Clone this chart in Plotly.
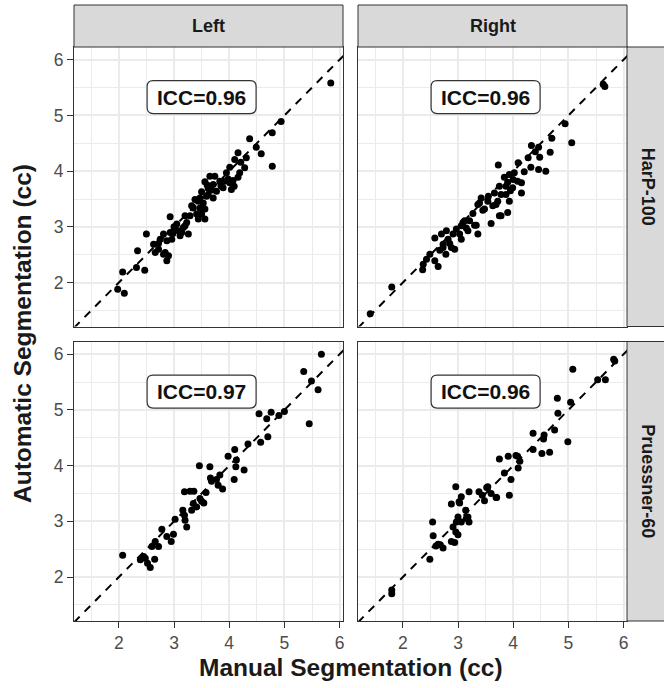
import plotly.graph_objects as go

# ---------------- data ----------------
sides = ["Left", "Right"]
protocols = ["HarP-100", "Pruessner-60"]
icc_values = {("HarP-100", "Left"): "0.96", ("HarP-100", "Right"): "0.96",
              ("Pruessner-60", "Left"): "0.97", ("Pruessner-60", "Right"): "0.96"}

harp_left_manual = [5.84, 4.94, 4.78, 4.37, 4.49, 4.58, 4.78, 4.16, 4.10, 4.31, 4.01, 4.28, 4.21, 3.95,
                    4.19, 4.16, 4.07, 4.01, 4.09, 3.92, 3.89, 4.04, 3.74, 3.83, 3.65, 3.56, 3.71, 3.68,
                    3.62, 3.50, 3.77, 3.71, 3.59, 3.47, 3.44, 3.53, 3.35, 3.47, 3.56, 3.29, 3.41, 3.50,
                    3.56, 3.44, 3.20, 3.23, 3.17, 3.14, 3.26, 2.93, 3.05, 3.08, 3.11, 2.81, 2.93, 2.75,
                    2.87, 2.96, 2.63, 2.50, 2.72, 2.66, 2.84, 2.90, 2.81, 2.87, 2.34, 2.32, 2.47, 2.07,
                    1.98, 2.10, 3.32, 3.38, 3.62, 3.00, 2.98, 3.20, 3.60, 3.85, 3.98, 2.72, 3.02]
harp_left_auto = [5.58, 4.89, 4.69, 4.58, 4.43, 4.31, 4.09, 4.33, 4.21, 4.24, 4.07, 4.06, 4.16, 3.97,
                  3.97, 3.89, 3.83, 3.79, 3.73, 3.82, 3.70, 3.67, 3.91, 3.82, 3.91, 3.81, 3.76, 3.66,
                  3.69, 3.63, 3.64, 3.52, 3.55, 3.52, 3.46, 3.43, 3.34, 3.34, 3.32, 3.20, 3.23, 3.23,
                  3.14, 3.14, 3.20, 3.08, 2.99, 2.90, 2.87, 3.18, 3.05, 2.93, 2.84, 2.87, 2.90, 2.78,
                  2.75, 2.78, 2.69, 2.87, 2.60, 2.54, 2.54, 2.48, 2.51, 2.39, 2.57, 2.27, 2.22, 2.19,
                  1.88, 1.81, 3.38, 3.49, 3.58, 3.00, 2.88, 3.02, 3.75, 3.74, 3.86, 2.70, 2.95]

harp_right_manual = [5.63, 5.66, 4.94, 4.70, 5.06, 4.33, 4.46, 4.67, 4.48, 4.27, 4.09, 4.32, 4.46, 4.59,
                     3.73, 4.20, 4.02, 3.93, 3.84, 4.08, 4.15, 3.75, 3.87, 3.99, 4.15, 3.66, 3.78, 3.93,
                     3.42, 3.54, 3.69, 3.36, 3.48, 3.63, 3.78, 3.90, 3.27, 3.21, 3.60, 3.12, 3.33, 3.18,
                     3.06, 2.97, 2.91, 3.06, 2.79, 2.82, 2.58, 2.73, 2.94, 2.78, 2.67, 2.49, 2.43, 2.37,
                     2.36, 2.58, 2.64, 1.80, 1.41, 2.70, 2.73, 2.88, 3.03, 3.36, 3.30, 3.09, 3.39, 3.75,
                     3.87, 3.72, 3.55, 3.90, 4.00, 3.45, 2.85, 3.15, 4.40, 3.95]
harp_right_auto = [5.56, 5.52, 4.85, 4.59, 4.51, 4.46, 4.43, 4.34, 4.25, 4.24, 4.15, 4.07, 4.03, 4.00,
                   4.11, 3.99, 3.97, 3.94, 3.89, 3.82, 3.79, 3.73, 3.73, 3.70, 3.61, 3.61, 3.58, 3.46,
                   3.52, 3.46, 3.40, 3.40, 3.32, 3.38, 3.20, 3.26, 3.24, 3.11, 3.06, 3.11, 3.03, 2.93,
                   3.02, 2.96, 2.87, 2.78, 2.93, 2.78, 2.80, 2.69, 2.60, 2.51, 2.58, 2.51, 2.42, 2.33,
                   2.23, 2.39, 2.29, 1.92, 1.44, 2.87, 2.63, 2.63, 2.87, 2.87, 3.03, 3.08, 3.43, 3.20,
                   3.58, 3.46, 3.55, 3.80, 3.85, 3.30, 2.70, 2.98, 4.35, 3.65]

pru_left_manual = [5.67, 5.35, 5.49, 5.61, 5.45, 4.54, 4.76, 4.68, 4.90, 5.00, 4.70, 4.57, 4.34, 4.10,
                   3.98, 4.13, 4.12, 4.27, 4.09, 3.46, 3.65, 3.66, 3.83, 3.80, 3.88, 3.77, 3.19, 3.29,
                   3.36, 3.58, 3.47, 3.54, 3.35, 3.41, 3.32, 3.16, 3.19, 3.02, 3.20, 3.23, 2.99, 2.87,
                   2.95, 2.78, 2.66, 2.60, 2.72, 2.45, 2.39, 2.52, 2.65, 2.57, 2.07, 3.50, 2.48, 3.68]
pru_left_auto = [6.00, 5.69, 5.52, 5.36, 4.75, 4.93, 4.96, 4.84, 4.90, 4.97, 4.52, 4.42, 4.39, 4.29,
                 4.17, 4.10, 3.98, 3.92, 3.75, 4.00, 3.98, 3.78, 3.83, 3.65, 3.58, 3.75, 3.53, 3.54,
                 3.54, 3.52, 3.41, 3.33, 3.32, 3.26, 3.20, 3.20, 3.11, 3.04, 3.02, 2.90, 2.77, 2.73,
                 2.64, 2.86, 2.64, 2.55, 2.55, 2.37, 2.31, 2.25, 2.32, 2.17, 2.39, 3.36, 2.34, 3.72]

pru_right_manual = [5.82, 5.84, 5.08, 5.53, 5.67, 4.80, 5.04, 4.81, 4.75, 4.99, 4.36, 4.55, 4.52, 4.66,
                    4.36, 4.08, 3.91, 3.75, 4.12, 4.09, 3.84, 3.96, 3.93, 3.69, 3.52, 3.60, 3.38, 3.44,
                    3.48, 3.20, 2.96, 3.06, 3.02, 2.88, 3.14, 3.18, 3.20, 3.00, 2.97, 2.91, 2.96, 3.00,
                    2.54, 2.55, 2.88, 2.94, 2.64, 2.60, 2.73, 2.49, 1.80, 1.80, 3.03, 3.15, 3.06, 4.05,
                    3.54, 3.70, 4.56, 2.68]
pru_right_auto = [5.91, 5.88, 5.73, 5.54, 5.54, 5.21, 5.14, 4.94, 4.64, 4.43, 4.58, 4.48, 4.22, 4.24,
                  4.29, 4.17, 4.17, 4.12, 4.08, 3.96, 3.87, 3.75, 3.47, 3.43, 3.61, 3.50, 3.53, 3.47,
                  3.37, 3.53, 3.62, 3.44, 3.35, 3.31, 3.20, 3.08, 2.99, 3.08, 2.99, 2.90, 2.81, 2.76,
                  2.99, 2.74, 2.64, 2.62, 2.59, 2.56, 2.52, 2.32, 1.77, 1.70, 3.33, 3.05, 2.99, 4.18,
                  3.62, 3.43, 4.55, 2.58]

panels = {
    ("HarP-100", "Left"): (harp_left_manual, harp_left_auto),
    ("HarP-100", "Right"): (harp_right_manual, harp_right_auto),
    ("Pruessner-60", "Left"): (pru_left_manual, pru_left_auto),
    ("Pruessner-60", "Right"): (pru_right_manual, pru_right_auto),
}

x_tick_values = [2, 3, 4, 5, 6]
y_tick_values = [2, 3, 4, 5, 6]
label_x, label_y = 3.5, 5.33

# ---------------- layout constants ----------------
W, H = 664, 688
ML, MR, MT, MB = 74, 37, 47, 67
PW, PH = W - ML - MR, H - MT - MB
GAP = 15
STRIP = 42
col_dom = [[0, (PW - GAP) / 2 / PW], [(PW + GAP) / 2 / PW, 1]]
row_dom = [[(PH + GAP) / 2 / PH, 1], [0, (PH - GAP) / 2 / PH]]

FONT = "Liberation Sans, Arial, Helvetica, sans-serif"
GRID = "#EBEBEB"
DARK = "#333333"
BOX_W, BOX_H, BOX_R = 109, 33, 6   # label box size in pixels

# ggplot-like expanded ranges (shared scales)
all_x = [v for k in panels for v in panels[k][0]]
all_y = [v for k in panels for v in panels[k][1]]
def expand(vals):
    lo, hi = min(vals), max(vals)
    p = 0.05 * (hi - lo)
    return [lo - p, hi + p]
xr = expand(all_x)
yr = expand(all_y)
line_lo, line_hi = min(xr[0], yr[0]), max(xr[1], yr[1])

fig = go.Figure()
layout = dict(width=W, height=H, margin=dict(l=ML, r=MR, t=MT, b=MB),
              paper_bgcolor="white", plot_bgcolor="white", showlegend=False,
              font=dict(family=FONT))
shapes, annotations = [], []

idx = 0
for r, prot in enumerate(protocols):
    for c, side in enumerate(sides):
        idx += 1
        sfx = "" if idx == 1 else str(idx)
        xs, ys = panels[(prot, side)]
        fig.add_trace(go.Scatter(x=[line_lo, line_hi], y=[line_lo, line_hi], mode="lines",
                                 line=dict(color="black", width=2, dash="8px,7px"),
                                 xaxis="x" + sfx, yaxis="y" + sfx, hoverinfo="skip"))
        fig.add_trace(go.Scatter(x=xs, y=ys, mode="markers",
                                 marker=dict(color="black", size=7, line=dict(width=0)),
                                 xaxis="x" + sfx, yaxis="y" + sfx))
        show_x = (r == 1)
        show_y = (c == 0)
        common = dict(showline=True, mirror=True, linecolor=DARK, linewidth=1,
                      showgrid=True, gridcolor=GRID, gridwidth=1.8, zeroline=False,
                      minor=dict(dtick=0.5, showgrid=True, gridcolor=GRID, gridwidth=1.2),
                      tickfont=dict(size=17.5, color="#4D4D4D", family=FONT),
                      tickcolor=DARK, ticklen=6, tickwidth=1.2)
        layout["xaxis" + sfx] = dict(common, domain=col_dom[c], anchor="y" + sfx, range=xr,
                                     tickvals=x_tick_values, showticklabels=show_x,
                                     ticks="outside" if show_x else "")
        layout["yaxis" + sfx] = dict(common, domain=row_dom[r], anchor="x" + sfx, range=yr,
                                     tickvals=y_tick_values, showticklabels=show_y,
                                     ticks="outside" if show_y else "")
        # rounded label box (geom_label look), sized in pixels -> data units
        ux = (col_dom[c][1] - col_dom[c][0]) * PW / (xr[1] - xr[0])
        uy = (row_dom[r][1] - row_dom[r][0]) * PH / (yr[1] - yr[0])
        hw, hh = BOX_W / 2 / ux, BOX_H / 2 / uy
        rx, ry = BOX_R / ux, BOX_R / uy
        x0, x1 = label_x - hw, label_x + hw
        y0, y1 = label_y - hh, label_y + hh
        path = (f"M {x0+rx},{y0} L {x1-rx},{y0} Q {x1},{y0} {x1},{y0+ry} "
                f"L {x1},{y1-ry} Q {x1},{y1} {x1-rx},{y1} L {x0+rx},{y1} "
                f"Q {x0},{y1} {x0},{y1-ry} L {x0},{y0+ry} Q {x0},{y0} {x0+rx},{y0} Z")
        shapes.append(dict(type="path", path=path, xref="x" + sfx, yref="y" + sfx,
                           fillcolor="white", line=dict(color=DARK, width=1.2), layer="above"))
        annotations.append(dict(x=label_x, y=label_y, xref="x" + sfx, yref="y" + sfx,
                                text="ICC=" + icc_values[(prot, side)],
                                showarrow=False, font=dict(size=21, color="#111111", family=FONT,
                                                           weight="bold")))

# strips
strip_h = STRIP / PH
strip_w = STRIP / PW
for c, side in enumerate(sides):
    shapes.append(dict(type="rect", xref="paper", yref="paper", x0=col_dom[c][0], x1=col_dom[c][1],
                       y0=1, y1=1 + strip_h, fillcolor="#D9D9D9", line=dict(color=DARK, width=1)))
    annotations.append(dict(x=sum(col_dom[c]) / 2, y=1 + strip_h / 2, xref="paper", yref="paper",
                            text=side, showarrow=False, xanchor="center", yanchor="middle",
                            font=dict(size=18, color="#1A1A1A", family=FONT, weight="bold")))
for r, prot in enumerate(protocols):
    shapes.append(dict(type="rect", xref="paper", yref="paper", x0=1, x1=1 + strip_w,
                       y0=row_dom[r][0], y1=row_dom[r][1], fillcolor="#D9D9D9",
                       line=dict(color=DARK, width=1)))
    annotations.append(dict(x=1 + strip_w / 2, y=sum(row_dom[r]) / 2, xref="paper", yref="paper",
                            text=prot, showarrow=False, textangle=90, xanchor="center",
                            yanchor="middle",
                            font=dict(size=18, color="#1A1A1A", family=FONT, weight="bold")))

# axis titles
annotations.append(dict(x=0.5, y=-(47 / PH), xref="paper", yref="paper",
                        text="Manual Segmentation (cc)", showarrow=False, xanchor="center",
                        yanchor="middle",
                        font=dict(size=24.5, color="#1A1A1A", family=FONT, weight="bold")))
annotations.append(dict(x=-(52 / PW), y=0.5, xref="paper", yref="paper",
                        text="Automatic Segmentation (cc)", showarrow=False, textangle=-90,
                        xanchor="center", yanchor="middle",
                        font=dict(size=24.5, color="#1A1A1A", family=FONT, weight="bold")))

layout["shapes"] = shapes
layout["annotations"] = annotations
fig.update_layout(**layout)
fig.write_html("out.html", config={"displayModeBar": False},
               post_script="document.body.style.margin='0';")
